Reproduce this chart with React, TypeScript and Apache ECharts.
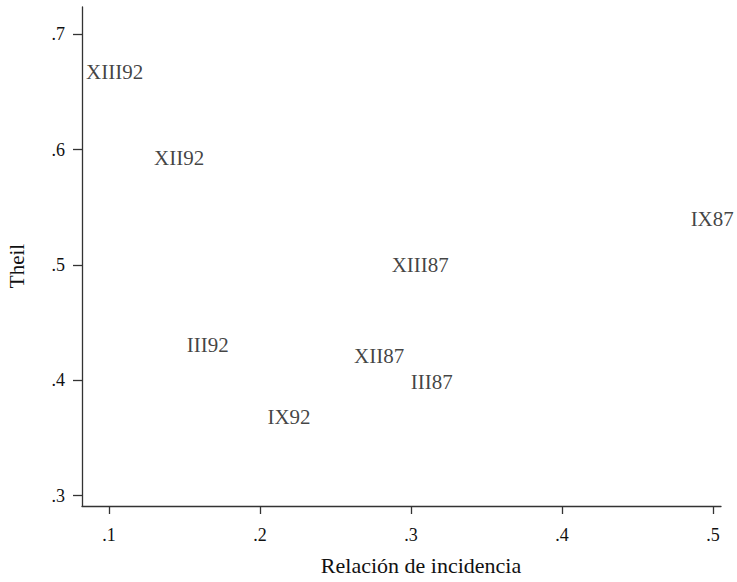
import React, { useEffect, useRef } from "react";
import * as echarts from "echarts";

const labels = ["XIII92", "XII92", "III92", "XII87", "III87", "IX92", "IX87", "XIII87"];
const incidencia = [0.0828, 0.1278, 0.1495, 0.2603, 0.2978, 0.2029, 0.4832, 0.2852];
const theil = [0.6676, 0.5928, 0.4306, 0.4214, 0.3988, 0.3685, 0.5396, 0.5];
const xTicks = [0.1, 0.2, 0.3, 0.4, 0.5];
const yTicks = [0.3, 0.4, 0.5, 0.6, 0.7];

const FONT = "'Liberation Serif', 'Times New Roman', serif";
const TEXT = "#111";
const fmt = (v: number) => v.toFixed(1).replace(/^0/, "");

export default function App() {
  const ref = useRef<HTMLDivElement>(null);
  useEffect(() => {
    if (!ref.current) return;
    const chart = echarts.init(ref.current, null, { renderer: "svg" });
    const data = labels.map((n, i) => ({ name: n, value: [incidencia[i], theil[i]] }));
    chart.setOption({
      animation: false,
      backgroundColor: "#fff",
      grid: { left: 82, top: 7, width: 639, height: 499, containLabel: false },
      xAxis: {
        type: "value",
        min: 0.0821,
        max: 0.5053,
        splitLine: { show: false },
        axisLine: { show: true, onZero: false, lineStyle: { color: "#333", width: 1.3 } },
        axisTick: { show: true, length: 8, customValues: xTicks, lineStyle: { color: "#333", width: 1.3 } },
        axisLabel: {
          customValues: xTicks,
          formatter: fmt,
          margin: 20,
          fontFamily: FONT,
          fontSize: 18,
          color: TEXT,
        },
      },
      yAxis: {
        type: "value",
        min: 0.2911,
        max: 0.7237,
        splitLine: { show: false },
        axisLine: { show: true, onZero: false, lineStyle: { color: "#333", width: 1.3 } },
        axisTick: { show: true, length: 9, customValues: yTicks, lineStyle: { color: "#333", width: 1.3 } },
        axisLabel: {
          customValues: yTicks,
          formatter: fmt,
          margin: 17,
          fontFamily: FONT,
          fontSize: 18,
          color: TEXT,
        },
      },
      graphic: [
        {
          type: "text",
          x: 421,
          y: 565,
          style: {
            text: "Relación de incidencia",
            font: `22px ${FONT}`,
            fill: TEXT,
            textAlign: "center",
            textVerticalAlign: "middle",
          },
        },
        {
          type: "text",
          x: 17,
          y: 266,
          rotation: Math.PI / 2,
          style: {
            text: "Theil",
            font: `21px ${FONT}`,
            fill: TEXT,
            textAlign: "center",
            textVerticalAlign: "middle",
          },
        },
      ],
      series: [
        {
          type: "scatter",
          symbolSize: 0,
          data,
          label: {
            show: true,
            position: "right",
            distance: 3,
            formatter: (p: any) => p.name,
            fontFamily: FONT,
            fontSize: 21,
            color: TEXT,
          },
        },
      ],
    });
    return () => chart.dispose();
  }, []);
  return <div ref={ref} style={{ position: "fixed", left: 0, top: 0, width: 737, height: 582 }} />;
}
